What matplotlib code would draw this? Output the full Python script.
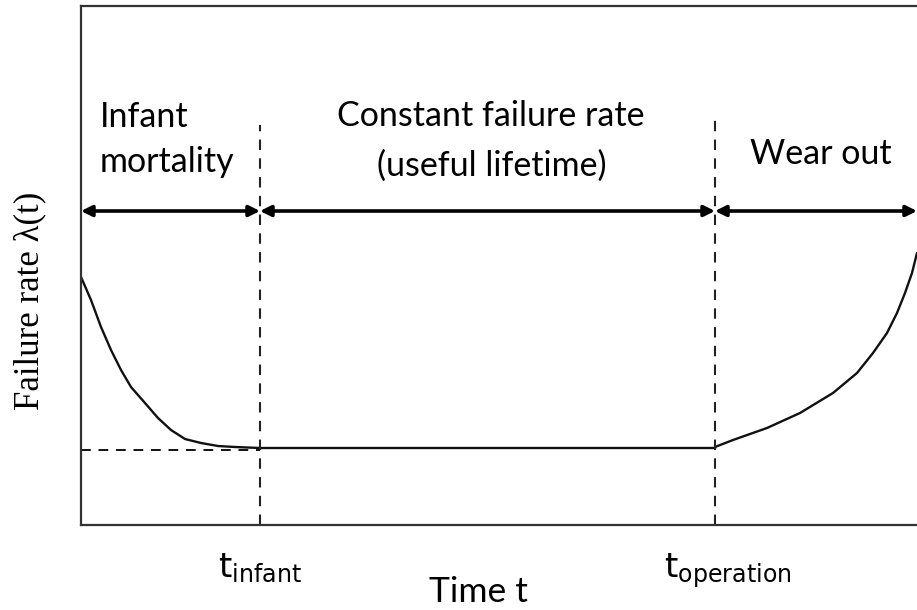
import matplotlib
matplotlib.use("Agg")
import matplotlib.pyplot as plt
from matplotlib.transforms import ScaledTranslation

# ---- data (time in arbitrary units, failure rate in arbitrary units) ----
t_infant = 179
t_operation = 634
t_end = 836
lambda_const = 77

infant_t = [0, 10, 20, 30, 40, 50, 64, 77, 90, 104, 120, 137, 154, 179]
infant_rate = [248, 225, 198, 175, 155, 138, 122, 107, 95, 86, 82, 79, 78, 77]

useful_t = [t_infant, t_operation]
useful_rate = [lambda_const, lambda_const]

wear_t = [634, 652, 686, 719, 752, 776, 792, 806, 816, 824, 831, 836]
wear_rate = [78, 85, 97, 112, 132, 152, 172, 192, 212, 232, 252, 272]

phase_labels = ["Infant\nmortality", "Constant failure rate\n(useful lifetime)", "Wear out"]
tick_positions = [t_infant, t_operation]
tick_labels = [r"$\mathregular{t_{infant}}$", r"$\mathregular{t_{operation}}$"]

# ---- figure ----
plt.rcParams["mathtext.fontset"] = "custom"
plt.rcParams["mathtext.rm"] = "Lato"
plt.rcParams["mathtext.it"] = "Lato"
sans = "Lato"
FS = 24.5

W, H = 917, 610
fig = plt.figure(figsize=(W / 100, H / 100), dpi=100)
ax = fig.add_axes([81 / W, (H - 525) / H, 1 - 81 / W, (525 - 6) / H])
ax.set_xlim(0, t_end)
ax.set_ylim(0, 519)


def py(y_pix):
    """figure-pixel row (from top) -> data y"""
    return 525 - y_pix


def px(x_pix):
    return x_pix - 81


for s in ["left", "bottom", "top"]:
    ax.spines[s].set_color("#333333")
    ax.spines[s].set_linewidth(1.6)
ax.spines["right"].set_visible(False)

# curves
ax.plot(infant_t, infant_rate, color="#111111", lw=1.7, solid_capstyle="round",
        solid_joinstyle="round")
ax.plot(useful_t, useful_rate, color="#111111", lw=1.7)
ax.plot(wear_t, wear_rate, color="#111111", lw=1.7, solid_capstyle="round",
        solid_joinstyle="round")

# dashed guide lines
ax.plot([0, t_infant], [lambda_const - 2, lambda_const - 2], color="#111111", lw=1.4,
        ls=(0, (5, 4)))
ax.plot([t_infant, t_infant], [0, py(125)], color="#222222", lw=1.5, ls=(0, (5, 4)))
ax.plot([t_operation, t_operation], [0, py(120)], color="#222222", lw=1.5,
        ls=(0, (5, 4)))

# phase arrows
arrow_y = py(211)
bounds = [0, t_infant, t_operation, t_end]
for a, b in zip(bounds[:-1], bounds[1:]):
    ax.annotate("", xy=(b, arrow_y), xytext=(a, arrow_y),
                arrowprops=dict(arrowstyle="<|-|>", color="black", lw=2.6,
                                mutation_scale=16, shrinkA=0, shrinkB=0))

# phase labels (one text per line)
l0 = phase_labels[0].split("\n")
ax.text(px(100), py(127), l0[0], ha="left", va="baseline", fontsize=FS, family=sans)
ax.text(px(100), py(172), l0[1], ha="left", va="baseline", fontsize=FS, family=sans)
l1 = phase_labels[1].split("\n")
ax.text(px(491), py(126), l1[0], ha="center", va="baseline", fontsize=FS, family=sans)
ax.text(px(492), py(176), l1[1], ha="center", va="baseline", fontsize=FS, family=sans)
ax.text(px(821), py(164), phase_labels[2], ha="center", va="baseline", fontsize=FS,
        family=sans)

# ticks
ax.set_yticks([])
ax.set_xticks(tick_positions)
ax.set_xticklabels(tick_labels, fontsize=24.5)
ax.tick_params(axis="x", length=0, pad=19)
labels = ax.get_xticklabels()
off = ScaledTranslation(13 / 100, 0, fig.dpi_scale_trans)
labels[1].set_transform(labels[1].get_transform() + off)

# axis labels
fig.text(478 / W, 1 - 602 / H, "Time t", ha="center", va="baseline",
         fontsize=25.5, family=sans)
fig.text(30 / W, 1 - 301 / H, "Failure rate λ(t)", ha="center", va="center",
         rotation=90, fontsize=25, family="Liberation Serif")

fig.savefig("out.png", dpi=100)
